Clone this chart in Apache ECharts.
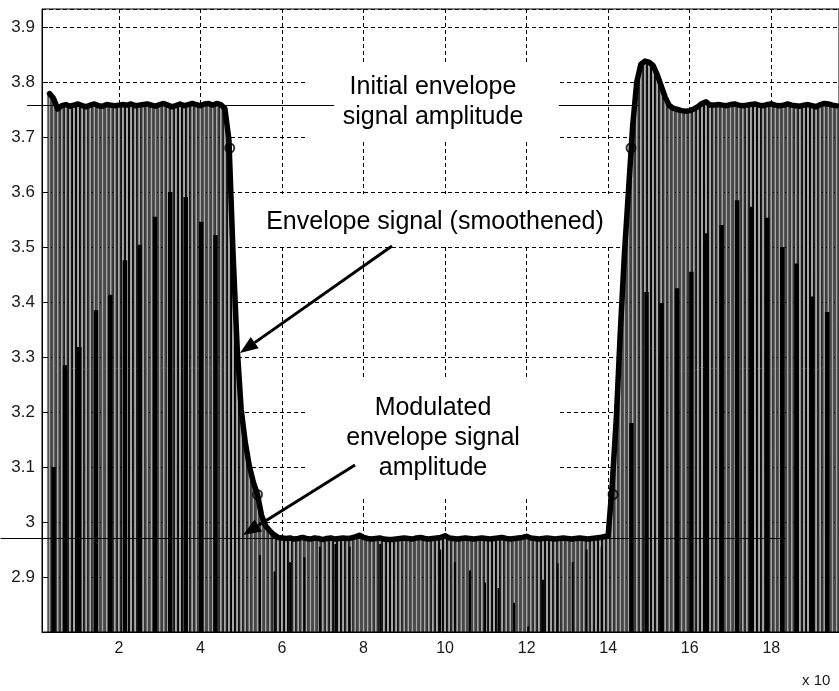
<!DOCTYPE html>
<html>
<head>
<meta charset="utf-8">
<script src="https://cdn.jsdelivr.net/npm/echarts@6/dist/echarts.min.js"></script>
<style>html,body{margin:0;padding:0;background:#fff;}#c{width:839px;height:691px;}</style>
</head>
<body>
<div id="c"></div>
<script>
// ---- data ----
const t0 = 0.3, dt = 0.1; // sample positions (x 10^-?)
const envHighLeft = [3.779,3.770,3.751,3.757,3.759,3.756,3.758,3.760,3.757,3.755,
  3.758,3.760,3.757,3.756,3.759,3.758,3.757,3.758,3.759,3.758,
  3.760,3.757,3.758,3.759,3.760,3.758,3.756,3.759,3.761,3.758,
  3.755,3.757,3.760,3.757,3.759,3.761,3.759,3.757,3.760,3.761,
  3.758,3.761,3.759];
const envFall = [3.752,3.695,3.490,3.320,3.205,3.145,3.102,3.072,3.050,3.012,2.993,2.984,2.977,2.972];
const envLow = [2.971,2.970,2.971,2.969,2.970,2.972,2.970,2.969,2.971,2.970,
  2.968,2.970,2.971,2.969,2.970,2.971,2.970,2.971,2.973,2.976,
  2.972,2.970,2.969,2.970,2.971,2.969,2.968,2.968,2.969,2.970,
  2.971,2.970,2.969,2.971,2.972,2.970,2.969,2.970,2.971,2.972,
  2.975,2.971,2.970,2.969,2.970,2.971,2.970,2.969,2.970,2.971,
  2.970,2.969,2.970,2.971,2.972,2.970,2.969,2.970,2.971,2.972,
  2.974,2.971,2.970,2.969,2.970,2.971,2.970,2.969,2.970,2.971,
  2.970,2.969,2.970,2.971,2.970,2.969,2.970,2.971,2.972,2.973];
const envRise = [2.976,3.070,3.190,3.350,3.490,3.605,3.720,3.800,3.832,3.838,
  3.836,3.830,3.814,3.793,3.772,3.757,3.752,3.750,3.748,3.747,
  3.748,3.751,3.755,3.761,3.764,3.758];
const envHighRight = [3.758,3.759,3.758,3.757,3.759,3.760,3.758,3.757,3.758,3.759,
  3.760,3.758,3.757,3.759,3.760,3.758,3.757,3.758,3.760,3.758,
  3.757,3.756,3.758,3.759,3.757,3.755,3.759,3.761,3.760,3.758,3.757];
const envelope = [].concat(envHighLeft, envFall, envLow, envRise, envHighRight);

// 10% / 90% markers
const markerX = [4.72, 5.40, 14.12, 14.56];
const markerY = [3.68, 3.05, 3.05, 3.68];

// dense dark strokes (top value, they run to the bottom)
const darkWideX = [0.40,0.68,1.03,1.44,1.79,2.15,2.51,2.89,3.26,3.64,4.02,4.37,
  14.57,14.94,15.31,15.69,16.04,16.41,16.78,17.16,17.52,17.90,18.27,18.62,19.00,19.37];
const darkWideTop = [3.10,3.285,3.318,3.385,3.413,3.476,3.504,3.555,3.60,3.591,3.546,3.522,
  3.18,3.418,3.398,3.425,3.455,3.525,3.54,3.585,3.573,3.553,3.50,3.47,3.41,3.382];
const darkThinX = [5.46,5.82,6.20,6.55,6.93,7.31,7.66,8.41,9.88,10.24,10.61,10.98,11.31,11.69,12.04,12.40,12.76,13.13,13.47,13.84];
const darkThinTop = [2.94,2.91,2.927,2.936,2.955,2.96,2.955,2.96,2.95,2.927,2.912,2.89,2.88,2.853,2.81,2.895,2.925,2.927,2.95,2.955];

// annotation levels
const levelInitial = 3.758;
const levelModulated = 2.971;

const xScaleNote = 'x 10';

// ---- build ----
const yMin = 2.8, yMax = 3.93273, xMin = 0.116, xMax = 19.66;
const envData = envelope.map((v, i) => [+(t0 + i * dt).toFixed(2), v]);
const markerData = markerX.map((x, i) => [x, markerY[i]]);
const wideData = darkWideX.map((x, i) => [x, darkWideTop[i]]);
const thinData = darkThinX.map((x, i) => [x, darkThinTop[i]]);

function barRender(width, fill, stroke) {
  return function (params, api) {
    const x = api.value(0), v = api.value(1);
    const top = api.coord([x, v]);
    const bot = api.coord([x, yMin]);
    return {
      type: 'rect',
      shape: { x: top[0] - width / 2, y: top[1], width: width, height: bot[1] - top[1] },
      style: stroke ? { fill: fill, stroke: stroke, lineWidth: 1 } : { fill: fill }
    };
  };
}

const chart = echarts.init(document.getElementById('c'), null, { renderer: 'canvas' });
const FONT = '"Liberation Sans", Arial, Helvetica, sans-serif';
chart.setOption({
  animation: false,
  backgroundColor: '#fff',
  grid: { left: 42, top: 9, right: -2, bottom: 59, show: true, borderColor: '#000', borderWidth: 1, backgroundColor: 'transparent' },
  xAxis: {
    type: 'value', min: xMin, max: xMax, splitNumber: 10,
    axisLine: { show: true, onZero: false, lineStyle: { color: '#000', width: 1 } },
    axisTick: { show: true, inside: true, length: 6, lineStyle: { color: '#000' } },
    axisLabel: { show: true, showMinLabel: false, showMaxLabel: false, color: '#1a1a1a', fontSize: 16, fontFamily: FONT, margin: 9 },
    splitLine: { show: true, lineStyle: { color: '#000', type: [4, 3], width: 1 } }
  },
  yAxis: {
    type: 'value', min: yMin, max: yMax, interval: 0.1,
    axisLine: { show: true, onZero: false, lineStyle: { color: '#000', width: 1 } },
    axisTick: { show: true, inside: true, length: 6, lineStyle: { color: '#000' } },
    axisLabel: { show: true, showMinLabel: false, showMaxLabel: false, color: '#1a1a1a', fontSize: 17, fontFamily: FONT, margin: 7 },
    splitLine: { show: true, lineStyle: { color: '#000', type: [4, 3], width: 1 } }
  },
  series: [
    { type: 'custom', name: 'carrier', data: envData, clip: true, z: 2,
      renderItem: barRender(3, '#a8a8a8', '#000') },
    { type: 'custom', name: 'darkWide', data: wideData, clip: true, z: 3,
      renderItem: barRender(4.5, '#000', null) },
    { type: 'custom', name: 'darkThin', data: thinData, clip: true, z: 3,
      renderItem: barRender(2, '#000', null) },
    { type: 'line', name: 'envelope', data: envData, showSymbol: false, symbol: 'none', z: 6,
      lineStyle: { color: '#000', width: 5.5, join: 'round', cap: 'round' }, clip: true },
    { type: 'scatter', name: 'markers', data: markerData, symbol: 'circle', symbolSize: 9, z: 7,
      itemStyle: { color: 'rgba(0,0,0,0)', borderColor: '#000', borderWidth: 2 } }
  ]
});

// ---- annotations ----
function px(x, y) { return chart.convertToPixel({ gridIndex: 0 }, [x, y]); }
function hline(xa, xb, level) {
  const a = px(xa, level), b = px(xb, level);
  return { type: 'line', shape: { x1: a[0], y1: Math.round(a[1]) + 0.5, x2: b[0], y2: Math.round(a[1]) + 0.5 },
    style: { stroke: '#000', lineWidth: 1 }, z: 5 };
}
function arrow(x1, y1, x2, y2) {
  const ang = Math.atan2(y2 - y1, x2 - x1), L = 18, W = 7;
  const bx = x2 - L * Math.cos(ang), by = y2 - L * Math.sin(ang);
  const ox = -Math.sin(ang) * W, oy = Math.cos(ang) * W;
  return [
    { type: 'line', shape: { x1: x1, y1: y1, x2: bx, y2: by }, style: { stroke: '#000', lineWidth: 3 }, z: 20 },
    { type: 'polygon', shape: { points: [[x2, y2], [bx + ox, by + oy], [bx - ox, by - oy]] }, style: { fill: '#000' }, z: 20 }
  ];
}
function label(text, x, y) {
  return { type: 'text', z: 20, style: { text: text, x: x, y: y, textAlign: 'center', textVerticalAlign: 'middle',
    font: '25px ' + FONT, fill: '#000' } };
}
function box(x, y, w, h) {
  return { type: 'rect', z: 1, shape: { x: x, y: y, width: w, height: h }, style: { fill: '#fff' } };
}
const els = [
  box(307, 63, 253, 77),
  box(250, 194, 366, 52),
  box(307, 380, 253, 117),
  hline(-0.25, 7.28, levelInitial),
  hline(12.79, 14.75, levelInitial),
  hline(-0.9, 18.35, levelModulated),
  label('Initial envelope', 433, 87),
  label('signal amplitude', 433, 117),
  label('Envelope signal (smoothened)', 435, 222),
  label('Modulated', 433, 408),
  label('envelope signal', 433, 438),
  label('amplitude', 433, 468),
  { type: 'text', z: 20, style: { text: xScaleNote, x: 802, y: 681, textVerticalAlign: 'middle', font: '15px ' + FONT, fill: '#1a1a1a' } }
].concat(arrow(392, 246, 240, 353), arrow(355, 465, 243, 535));
chart.setOption({ graphic: { elements: els } });
</script>
</body>
</html>
